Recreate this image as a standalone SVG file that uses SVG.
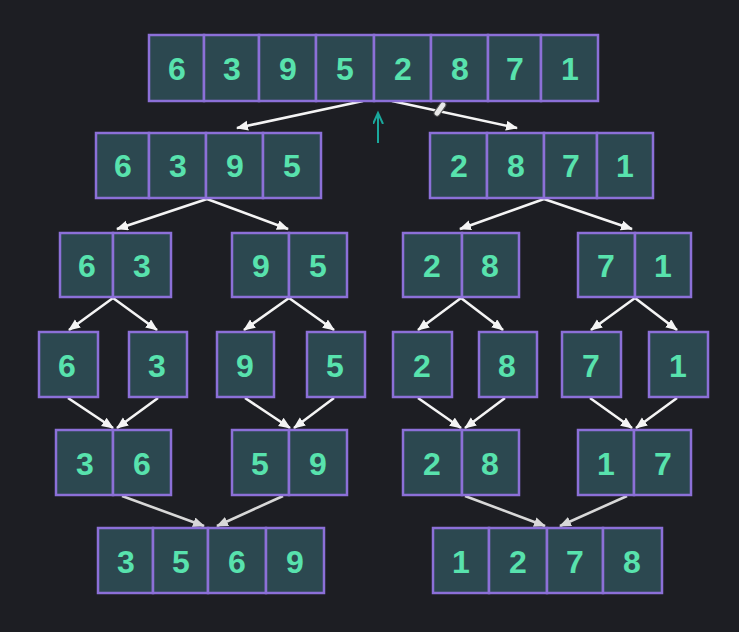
<svg xmlns="http://www.w3.org/2000/svg" width="739" height="632" viewBox="0 0 739 632">
<style>
.c{fill:#2c4850;stroke:#8c70d8;stroke-width:2.5}
.t{fill:#58e2ad;font-family:"Liberation Sans",Arial,sans-serif;font-weight:bold;font-size:32px;text-anchor:middle}
.a{stroke:#f4f4f4;stroke-width:2.6;fill:none;marker-end:url(#ah)}
.g{stroke:#d8d8d8;stroke-width:2.6;fill:none;marker-end:url(#ag)}
</style>
<defs>
<marker id="ah" markerUnits="userSpaceOnUse" markerWidth="14" markerHeight="12" refX="11" refY="5" orient="auto"><path d="M0,0 L12,5 L0,10 Z" fill="#f4f4f4"/></marker>
<marker id="ag" markerUnits="userSpaceOnUse" markerWidth="14" markerHeight="12" refX="11" refY="5" orient="auto"><path d="M0,0 L12,5 L0,10 Z" fill="#d8d8d8"/></marker>
<marker id="at" markerUnits="userSpaceOnUse" markerWidth="14" markerHeight="12" refX="11" refY="5" orient="auto"><path d="M0,0 L11,5 L0,10" fill="none" stroke="#1aa89c" stroke-width="2"/></marker>
</defs>
<rect width="739" height="632" fill="#1d1e23"/>

<g id="connectors">
<line class="a" x1="363" y1="101" x2="237" y2="128"/>
<line class="a" x1="392" y1="101" x2="517" y2="128"/>
<line class="a" x1="207" y1="199" x2="117" y2="229"/>
<line class="a" x1="207" y1="199" x2="288" y2="229"/>
<line class="a" x1="544" y1="199" x2="460" y2="229"/>
<line class="a" x1="544" y1="199" x2="632" y2="229"/>
<line class="a" x1="113" y1="298" x2="69" y2="330"/>
<line class="a" x1="113" y1="298" x2="157" y2="330"/>
<line class="a" x1="289" y1="298" x2="244" y2="330"/>
<line class="a" x1="289" y1="298" x2="334" y2="330"/>
<line class="a" x1="461" y1="298" x2="418" y2="330"/>
<line class="a" x1="461" y1="298" x2="503" y2="330"/>
<line class="a" x1="635" y1="298" x2="591" y2="330"/>
<line class="a" x1="635" y1="298" x2="677" y2="330"/>
<line class="a" x1="68" y1="398" x2="113" y2="428"/>
<line class="a" x1="158" y1="398" x2="117" y2="428"/>
<line class="a" x1="245" y1="398" x2="290" y2="428"/>
<line class="a" x1="334" y1="398" x2="294" y2="428"/>
<line class="a" x1="418" y1="398" x2="461" y2="428"/>
<line class="a" x1="505" y1="398" x2="465" y2="428"/>
<line class="a" x1="590" y1="398" x2="632" y2="428"/>
<line class="a" x1="677" y1="398" x2="636" y2="428"/>
<line class="g" x1="122" y1="496" x2="204" y2="526"/>
<line class="g" x1="283" y1="496" x2="217" y2="526"/>
<line class="g" x1="465" y1="496" x2="545" y2="526"/>
<line class="g" x1="627" y1="496" x2="560" y2="526"/>
<line x1="378" y1="143" x2="378" y2="113" stroke="#1aa89c" stroke-width="2" marker-end="url(#at)"/>
</g>

<g id="cursor" transform="translate(440,109) rotate(-55)">
<rect x="-8" y="-3" width="16" height="6" rx="3" fill="#e8e8e8" stroke="#555" stroke-width="1"/>
</g>

<g id="n-63952871">
<rect class="c" x="149" y="35" width="55" height="66"/><rect class="c" x="204" y="35" width="55" height="66"/>
<rect class="c" x="259" y="35" width="57" height="66"/><rect class="c" x="316" y="35" width="58" height="66"/>
<rect class="c" x="374" y="35" width="57" height="66"/><rect class="c" x="431" y="35" width="57" height="66"/>
<rect class="c" x="488" y="35" width="53" height="66"/><rect class="c" x="541" y="35" width="57" height="66"/>
<text class="t" x="177" y="80">6</text><text class="t" x="232" y="80">3</text><text class="t" x="288" y="80">9</text><text class="t" x="345" y="80">5</text>
<text class="t" x="403" y="80">2</text><text class="t" x="460" y="80">8</text><text class="t" x="515" y="80">7</text><text class="t" x="570" y="80">1</text>
</g>

<g id="n-6395">
<rect class="c" x="96" y="133" width="53" height="65"/><rect class="c" x="149" y="133" width="57" height="65"/>
<rect class="c" x="206" y="133" width="57" height="65"/><rect class="c" x="263" y="133" width="58" height="65"/>
<text class="t" x="123" y="177">6</text><text class="t" x="178" y="177">3</text><text class="t" x="235" y="177">9</text><text class="t" x="292" y="177">5</text>
</g>

<g id="n-2871">
<rect class="c" x="430" y="133" width="57" height="65"/><rect class="c" x="487" y="133" width="57" height="65"/>
<rect class="c" x="544" y="133" width="53" height="65"/><rect class="c" x="597" y="133" width="56" height="65"/>
<text class="t" x="459" y="177">2</text><text class="t" x="516" y="177">8</text><text class="t" x="571" y="177">7</text><text class="t" x="625" y="177">1</text>
</g>

<g id="n-63">
<rect class="c" x="60" y="233" width="53" height="64"/><rect class="c" x="113" y="233" width="58" height="64"/>
<text class="t" x="87" y="277">6</text><text class="t" x="142" y="277">3</text>
</g>
<g id="n-95">
<rect class="c" x="232" y="233" width="57" height="64"/><rect class="c" x="289" y="233" width="58" height="64"/>
<text class="t" x="261" y="277">9</text><text class="t" x="318" y="277">5</text>
</g>
<g id="n-28a">
<rect class="c" x="403" y="233" width="59" height="64"/><rect class="c" x="462" y="233" width="57" height="64"/>
<text class="t" x="432" y="277">2</text><text class="t" x="490" y="277">8</text>
</g>
<g id="n-71">
<rect class="c" x="578" y="233" width="57" height="64"/><rect class="c" x="635" y="233" width="56" height="64"/>
<text class="t" x="606" y="277">7</text><text class="t" x="663" y="277">1</text>
</g>

<g id="n-6"><rect class="c" x="39" y="332" width="59" height="65"/><text class="t" x="67" y="377">6</text></g>
<g id="n-3"><rect class="c" x="129" y="332" width="58" height="65"/><text class="t" x="157" y="377">3</text></g>
<g id="n-9"><rect class="c" x="217" y="332" width="57" height="65"/><text class="t" x="245" y="377">9</text></g>
<g id="n-5"><rect class="c" x="307" y="332" width="58" height="65"/><text class="t" x="335" y="377">5</text></g>
<g id="n-2"><rect class="c" x="393" y="332" width="59" height="65"/><text class="t" x="422" y="377">2</text></g>
<g id="n-8"><rect class="c" x="479" y="332" width="58" height="65"/><text class="t" x="507" y="377">8</text></g>
<g id="n-7"><rect class="c" x="562" y="332" width="59" height="65"/><text class="t" x="591" y="377">7</text></g>
<g id="n-1"><rect class="c" x="649" y="332" width="59" height="65"/><text class="t" x="678" y="377">1</text></g>

<g id="n-36">
<rect class="c" x="56" y="430" width="57" height="65"/><rect class="c" x="113" y="430" width="58" height="65"/>
<text class="t" x="85" y="475">3</text><text class="t" x="142" y="475">6</text>
</g>
<g id="n-59">
<rect class="c" x="232" y="430" width="57" height="65"/><rect class="c" x="289" y="430" width="58" height="65"/>
<text class="t" x="260" y="475">5</text><text class="t" x="318" y="475">9</text>
</g>
<g id="n-28b">
<rect class="c" x="403" y="430" width="59" height="65"/><rect class="c" x="462" y="430" width="57" height="65"/>
<text class="t" x="432" y="475">2</text><text class="t" x="490" y="475">8</text>
</g>
<g id="n-17">
<rect class="c" x="578" y="430" width="56" height="65"/><rect class="c" x="634" y="430" width="57" height="65"/>
<text class="t" x="606" y="475">1</text><text class="t" x="663" y="475">7</text>
</g>

<g id="n-3569">
<rect class="c" x="98" y="528" width="55" height="65"/><rect class="c" x="153" y="528" width="55" height="65"/>
<rect class="c" x="208" y="528" width="58" height="65"/><rect class="c" x="266" y="528" width="58" height="65"/>
<text class="t" x="126" y="573">3</text><text class="t" x="181" y="573">5</text><text class="t" x="237" y="573">6</text><text class="t" x="295" y="573">9</text>
</g>
<g id="n-1278">
<rect class="c" x="433" y="528" width="56" height="65"/><rect class="c" x="489" y="528" width="58" height="65"/>
<rect class="c" x="547" y="528" width="56" height="65"/><rect class="c" x="603" y="528" width="59" height="65"/>
<text class="t" x="461" y="573">1</text><text class="t" x="518" y="573">2</text><text class="t" x="575" y="573">7</text><text class="t" x="632" y="573">8</text>
</g>
</svg>
